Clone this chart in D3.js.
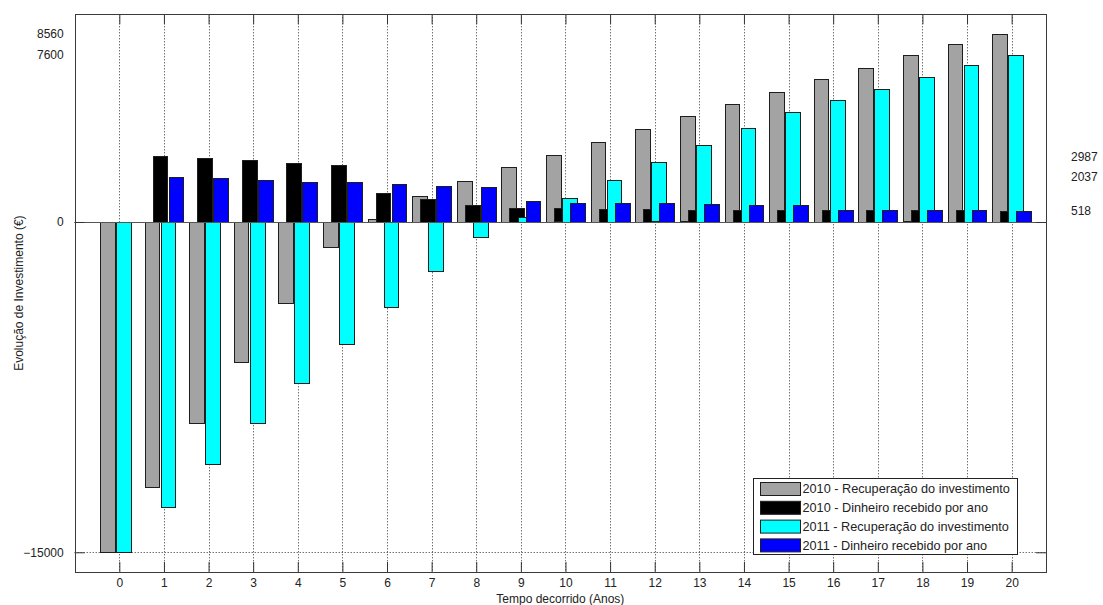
<!DOCTYPE html>
<html>
<head>
<meta charset="utf-8">
<script src="https://cdn.jsdelivr.net/npm/d3@7"></script>
<style>
  html, body { margin: 0; padding: 0; background: #fff; }
  svg { display: block; font-family: "Liberation Sans", Arial, sans-serif; }
  text { fill: #222; font-size: 12px; }
</style>
</head>
<body>
<svg id="chart" width="1103" height="605"></svg>
<script>
// Anos decorridos desde o investimento inicial
const years = [0, 1, 2, 3, 4, 5, 6, 7, 8, 9, 10, 11, 12, 13, 14, 15, 16, 17, 18, 19, 20];

// 2010 - recuperação acumulada do investimento (€)
const recup2010 = [-15000, -12013, -9128, -6372, -3693, -1120, 150, 1181, 1876, 2498, 3065,
                   3655, 4228, 4791, 5381, 5926, 6485, 7016, 7561, 8093, 8560];
// 2010 - dinheiro recebido em cada ano (€)
const cash2010 = [0, 2987, 2906, 2816, 2679, 2602, 1303, 1045, 772, 622, 613,
                  610, 605, 567, 565, 563, 560, 558, 527, 525, 518];
// 2011 - recuperação acumulada do investimento (€)
const recup2011 = [-15000, -12963, -10990, -9128, -7297, -5555, -3875, -2240, -666, 213, 1112,
                   1912, 2702, 3501, 4273, 4973, 5518, 6045, 6580, 7112, 7600];
// 2011 - dinheiro recebido em cada ano (€)
const cash2011 = [0, 2037, 2012, 1921, 1830, 1803, 1712, 1649, 1603, 954, 885,
                  850, 845, 808, 770, 763, 567, 565, 527, 525, 518];

const seriesNames = [
  "2010 - Recuperação do investimento",
  "2010 - Dinheiro recebido por ano",
  "2011 - Recuperação do investimento",
  "2011 - Dinheiro recebido por ano"
];
const seriesColors = ["#a3a3a3", "#000000", "#00ffff", "#0000ff"];
const seriesData = [recup2010, cash2010, recup2011, cash2011];
const seriesOffset = [-0.27, -0.09, 0.09, 0.27];   // deslocamento de cada barra no grupo
const barWidth = 0.33;

const leftLabels = [8560, 7600, 0, -15000];
const tickedValues = [-15000, 0];
const rightLabels = [2987, 2037, 518];

const svg = d3.select("#chart");
const plotLeft = 74.7, plotRight = 1046, plotTop = 14.3, plotBottom = 572;

const x = d3.scaleLinear().domain([-1, 20.77]).range([plotLeft, plotRight]);
const y = d3.scaleLinear().domain([-15895, 9432]).range([plotBottom, plotTop]);

const snap = v => Math.round(v) + 0.5;

// grelha pontilhada
const grid = svg.append("g");
grid.selectAll("line.vg").data(years).join("line")
  .attr("x1", d => snap(x(d))).attr("x2", d => snap(x(d)))
  .attr("y1", plotTop).attr("y2", plotBottom)
  .attr("stroke", "#333").attr("stroke-width", 1).attr("stroke-dasharray", "1,2");
grid.selectAll("line.hg").data(tickedValues).join("line")
  .attr("x1", plotLeft).attr("x2", plotRight)
  .attr("y1", d => snap(y(d))).attr("y2", d => snap(y(d)))
  .attr("stroke", "#333").attr("stroke-width", 1).attr("stroke-dasharray", "1,2");

// barras, desenhadas pela ordem das séries (valores nulos não são desenhados)
seriesData.forEach((vals, si) => {
  svg.append("g").selectAll("rect").data(years.filter((d, i) => vals[i] !== 0)).join("rect")
    .attr("x", d => snap(x(d + seriesOffset[si] - barWidth / 2)))
    .attr("width", d => Math.round(x(d + seriesOffset[si] + barWidth / 2)) - Math.round(x(d + seriesOffset[si] - barWidth / 2)))
    .attr("y", d => snap(Math.min(y(vals[d]), y(0))))
    .attr("height", d => Math.round(Math.abs(y(vals[d]) - y(0))))
    .attr("fill", seriesColors[si])
    .attr("stroke", "#1e1e1e").attr("stroke-width", 1);
});

// linha de base em zero
svg.append("line")
  .attr("x1", plotLeft).attr("x2", plotRight)
  .attr("y1", snap(y(0))).attr("y2", snap(y(0)))
  .attr("stroke", "#555").attr("stroke-width", 1);

// eixo inferior (marcas para dentro)
svg.append("g").attr("transform", `translate(0,${plotBottom})`)
  .call(d3.axisBottom(x).tickValues(years).tickFormat(d3.format("d"))
    .tickSizeInner(-10).tickSizeOuter(0).tickPadding(6));
// eixo superior, só marcas
svg.append("g").attr("transform", `translate(0,${plotTop})`)
  .call(d3.axisTop(x).tickValues(years).tickFormat("")
    .tickSizeInner(-10).tickSizeOuter(0));
// eixo esquerdo
const yAxis = svg.append("g").attr("transform", `translate(${plotLeft},0)`)
  .call(d3.axisLeft(y).tickValues(leftLabels).tickFormat(d3.format("d"))
    .tickSizeInner(-10).tickSizeOuter(0).tickPadding(11));
yAxis.selectAll(".tick line").attr("display", d => tickedValues.includes(d) ? null : "none");
// eixo direito: marcas em -15000 e 0, rótulos com os valores anuais
svg.append("g").attr("transform", `translate(${plotRight},0)`)
  .call(d3.axisRight(y).tickValues(tickedValues).tickFormat("")
    .tickSizeInner(-10).tickSizeOuter(0));
svg.append("g").attr("transform", `translate(${plotRight},0)`)
  .call(d3.axisRight(y).tickValues(rightLabels).tickFormat(d3.format("d"))
    .tickSizeInner(0).tickSizeOuter(0).tickPadding(25));

svg.selectAll(".domain").remove();
svg.selectAll(".tick line").attr("stroke", "#333");
svg.selectAll(".tick text").attr("fill", "#222")
  .attr("font-family", "Liberation Sans, Arial, sans-serif");

// caixa dos eixos
svg.append("rect")
  .attr("x", snap(plotLeft)).attr("y", snap(plotTop))
  .attr("width", Math.round(plotRight - plotLeft)).attr("height", Math.round(plotBottom - plotTop))
  .attr("fill", "none").attr("stroke", "#3a3a3a").attr("stroke-width", 1);

// títulos dos eixos
svg.append("text")
  .attr("x", (plotLeft + plotRight) / 2).attr("y", 603)
  .attr("text-anchor", "middle")
  .text("Tempo decorrido (Anos)");
svg.append("text")
  .attr("transform", `translate(23,${(plotTop + plotBottom) / 2}) rotate(-90)`)
  .attr("text-anchor", "middle")
  .text("Evolução de Investimento (€)");

// legenda
const lg = svg.append("g").attr("transform", "translate(753.5,478.5)");
lg.append("rect").attr("width", 264).attr("height", 76)
  .attr("fill", "#fff").attr("stroke", "#222").attr("stroke-width", 1);
const rows = lg.selectAll("g.row").data(seriesNames).join("g")
  .attr("transform", (d, i) => `translate(0,${4 + i * 18.8})`);
rows.append("rect").attr("x", 7).attr("y", 0).attr("width", 40).attr("height", 13)
  .attr("fill", (d, i) => seriesColors[i]).attr("stroke", "#1e1e1e").attr("stroke-width", 1);
rows.append("text").attr("x", 49).attr("y", 6.5).attr("dy", "0.35em")
  .style("font-size", "12.7px")
  .text(d => d);
</script>
</body>
</html>
